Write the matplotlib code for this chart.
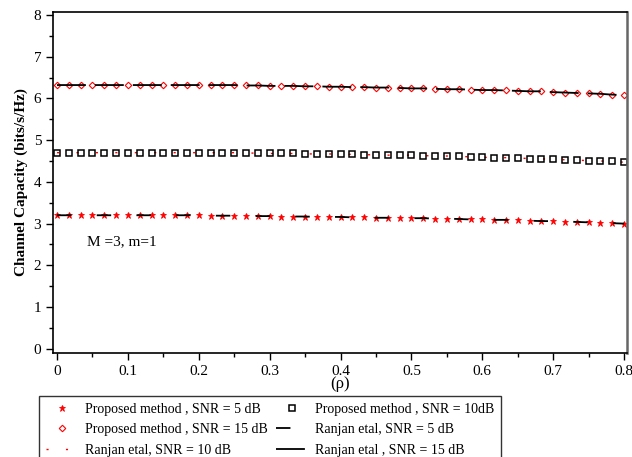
import numpy as np
import matplotlib
matplotlib.use("Agg")
import matplotlib.pyplot as plt
from matplotlib.ticker import MultipleLocator

plt.rcParams['font.family'] = ['Liberation Serif', 'DejaVu Serif']

# correlation coefficient grid
rho = np.linspace(0, 0.8, 49)

cap_snr5 = [3.20, 3.20, 3.20, 3.20, 3.20, 3.20, 3.20, 3.20, 3.20, 3.20, 3.20, 3.20, 3.20,
            3.19, 3.19, 3.19, 3.18, 3.18, 3.18, 3.17, 3.17, 3.17, 3.16, 3.16, 3.16,
            3.15, 3.15, 3.14, 3.14, 3.14, 3.13, 3.13, 3.12, 3.12, 3.11, 3.10, 3.10,
            3.09, 3.09, 3.08, 3.07, 3.06, 3.06, 3.05, 3.04, 3.03, 3.02, 3.01, 3.00]
cap_snr10 = [4.70, 4.70, 4.70, 4.70, 4.70, 4.70, 4.70, 4.70, 4.70, 4.70, 4.70, 4.70, 4.70,
             4.70, 4.70, 4.70, 4.69, 4.69, 4.68, 4.68, 4.68, 4.67, 4.67, 4.67, 4.66,
             4.66, 4.65, 4.65, 4.64, 4.64, 4.64, 4.63, 4.62, 4.62, 4.61, 4.60, 4.59,
             4.58, 4.58, 4.57, 4.56, 4.55, 4.54, 4.53, 4.52, 4.51, 4.50, 4.49, 4.47]
cap_snr15 = [6.32, 6.32, 6.32, 6.32, 6.32, 6.32, 6.32, 6.32, 6.32, 6.32, 6.32, 6.32, 6.32,
             6.32, 6.32, 6.32, 6.31, 6.31, 6.30, 6.30, 6.30, 6.29, 6.29, 6.28, 6.28,
             6.27, 6.27, 6.26, 6.26, 6.25, 6.24, 6.24, 6.23, 6.22, 6.22, 6.21, 6.20,
             6.20, 6.19, 6.18, 6.17, 6.17, 6.15, 6.14, 6.13, 6.12, 6.11, 6.09, 6.08]

# Ranjan et al. curves coincide with the proposed ones
ranjan_snr5 = cap_snr5
ranjan_snr10 = cap_snr10
ranjan_snr15 = cap_snr15

fig = plt.figure(figsize=(6.32, 4.57), dpi=100)
ax = fig.add_axes([0.0839, 0.2276, 0.9081, 0.7461])

l1, = ax.plot(rho, cap_snr5, linestyle='none', marker='*', color='red', markersize=5,
              mew=0.6, label='Proposed method , SNR = 5 dB')
l2, = ax.plot(rho, cap_snr15, linestyle='none', marker='D', markersize=3.3, mfc='none',
              mec='red', mew=0.8, label='Proposed method , SNR = 15 dB')
l3, = ax.plot(rho, ranjan_snr10, color='red', lw=1.0, dashes=(1.5, 12.5),
              label='Ranjan etal, SNR = 10 dB')
l4, = ax.plot(rho, cap_snr10, linestyle='none', marker='s', markersize=5, mfc='none',
              mec='black', mew=1.1, label='Proposed method , SNR = 10dB')
l5, = ax.plot(rho, ranjan_snr5, color='black', lw=1.3, dashes=(8, 14),
              label='Ranjan etal, SNR = 5 dB')
l6, = ax.plot(rho, ranjan_snr15, color='black', lw=1.3, dashes=(16, 5),
              label='Ranjan etal , SNR = 15 dB')

ax.set_xlim(-0.0056, 0.804)
ax.set_ylim(-0.1, 8.07)
ax.xaxis.set_major_locator(MultipleLocator(0.1))
ax.xaxis.set_minor_locator(MultipleLocator(0.05))
ax.yaxis.set_major_locator(MultipleLocator(1))
ax.yaxis.set_minor_locator(MultipleLocator(0.5))
ax.set_xticks(np.arange(0, 0.81, 0.1))
ax.set_xticklabels(['0', '0.1', '0.2', '0.3', '0.4', '0.5', '0.6', '0.7', '0.8'])
ax.tick_params(which='both', direction='out', labelsize=11, width=1)
ax.tick_params(which='major', length=5)
ax.tick_params(which='minor', length=3)
for s in ax.spines.values():
    s.set_linewidth(1.2)
ax.spines['right'].set_color('#666666')
ax.spines['right'].set_linewidth(1.8)

ax.set_ylabel('Channel Capacity (bits/s/Hz)', fontsize=11, fontweight='bold', labelpad=4)
ax.set_xlabel('(ρ)', fontsize=12, labelpad=-1)
ax.text(0.092, 2.56, 'M =3, m=1', fontsize=11, ha='center', va='center')

leg = fig.legend(handles=[l1, l2, l3, l4, l5, l6], ncol=2, loc='upper left',
                 bbox_to_anchor=(0.062, 0.134), fontsize=10, frameon=True,
                 fancybox=False, edgecolor='black', numpoints=1, handlelength=2.3,
                 handletextpad=0.5, columnspacing=0.6, labelspacing=0.55,
                 borderpad=0.5, borderaxespad=0)
leg.get_frame().set_linewidth(1.0)

fig.savefig('out.png', dpi=100)
